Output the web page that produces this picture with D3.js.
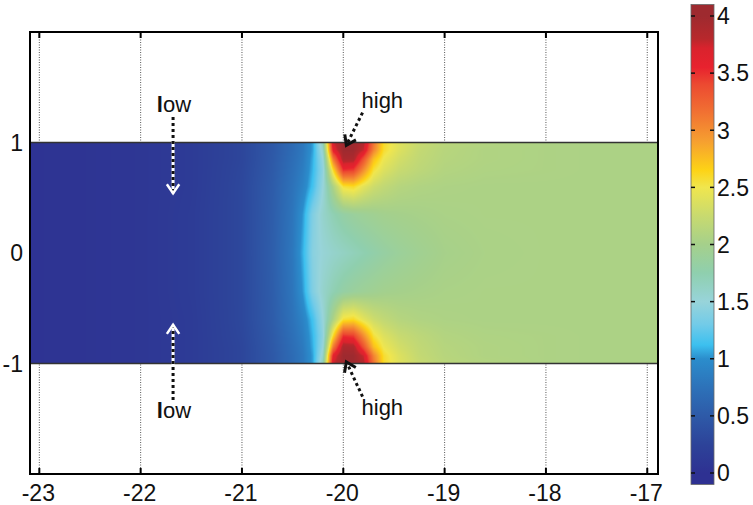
<!DOCTYPE html>
<html>
<head>
<meta charset="utf-8">
<script src="https://cdn.jsdelivr.net/npm/d3@7"></script>
<style>
  body { margin: 0; background: #fff; }
  text { font-family: Arial, "Liberation Sans", Helvetica, sans-serif; fill: #111; }
</style>
</head>
<body>
<div id="chart"></div>
<script>
// field samples: columns (x), rows (y), values
const gridX = [-23.1, -22.5, -22, -21.5, -21, -20.7, -20.5, -20.4, -20.3, -20.2, -20.1, -20, -19.9, -19.8, -19.7, -19.6, -19.45, -19.25, -19, -18.6, -18, -17.5, -16.9];
const gridY = [1, 0.93, 0.85, 0.75, 0.6, 0.35, 0, -0.35, -0.6, -0.75, -0.85, -0.93, -1];
const fieldValues = [
  [0.03, 0.05, 0.08, 0.14, 0.28, 0.48, 0.68, 0.8, 1.05, 1.7, 3.75, 4.0, 4.0, 3.85, 3.15, 2.6, 2.4, 2.25, 2.15, 2.1, 2.06, 2.05, 2.05],
  [0.03, 0.05, 0.08, 0.14, 0.28, 0.48, 0.68, 0.8, 1.05, 1.6, 3.6, 4.0, 4.0, 3.75, 3.05, 2.58, 2.38, 2.22, 2.13, 2.08, 2.06, 2.05, 2.05],
  [0.03, 0.05, 0.08, 0.14, 0.28, 0.49, 0.7, 0.82, 1.08, 1.5, 3.1, 3.9, 3.88, 3.35, 2.75, 2.48, 2.32, 2.2, 2.12, 2.08, 2.06, 2.05, 2.05],
  [0.03, 0.05, 0.08, 0.14, 0.29, 0.5, 0.72, 0.85, 1.1, 1.45, 2.6, 3.5, 3.45, 3.0, 2.55, 2.38, 2.25, 2.17, 2.1, 2.07, 2.06, 2.05, 2.05],
  [0.03, 0.05, 0.08, 0.14, 0.3, 0.52, 0.75, 0.9, 1.15, 1.5, 2.05, 2.55, 2.6, 2.42, 2.28, 2.2, 2.12, 2.08, 2.06, 2.05, 2.05, 2.05, 2.05],
  [0.03, 0.05, 0.08, 0.15, 0.3, 0.53, 0.78, 1.02, 1.38, 1.58, 1.72, 1.82, 1.88, 1.92, 1.95, 1.98, 2.0, 2.02, 2.04, 2.05, 2.05, 2.05, 2.05],
  [0.03, 0.05, 0.08, 0.15, 0.3, 0.54, 0.8, 1.08, 1.42, 1.52, 1.58, 1.63, 1.68, 1.73, 1.78, 1.83, 1.89, 1.95, 2.01, 2.04, 2.05, 2.05, 2.05],
  [0.03, 0.05, 0.08, 0.15, 0.3, 0.53, 0.78, 1.02, 1.38, 1.58, 1.72, 1.82, 1.88, 1.92, 1.95, 1.98, 2.0, 2.02, 2.04, 2.05, 2.05, 2.05, 2.05],
  [0.03, 0.05, 0.08, 0.14, 0.3, 0.52, 0.75, 0.9, 1.15, 1.5, 2.05, 2.55, 2.6, 2.42, 2.28, 2.2, 2.12, 2.08, 2.06, 2.05, 2.05, 2.05, 2.05],
  [0.03, 0.05, 0.08, 0.14, 0.29, 0.5, 0.72, 0.85, 1.1, 1.45, 2.6, 3.5, 3.45, 3.0, 2.55, 2.38, 2.25, 2.17, 2.1, 2.07, 2.06, 2.05, 2.05],
  [0.03, 0.05, 0.08, 0.14, 0.28, 0.49, 0.7, 0.82, 1.08, 1.5, 3.1, 3.9, 3.88, 3.35, 2.75, 2.48, 2.32, 2.2, 2.12, 2.08, 2.06, 2.05, 2.05],
  [0.03, 0.05, 0.08, 0.14, 0.28, 0.48, 0.68, 0.8, 1.05, 1.6, 3.6, 4.0, 4.0, 3.75, 3.05, 2.58, 2.38, 2.22, 2.13, 2.08, 2.06, 2.05, 2.05],
  [0.03, 0.05, 0.08, 0.14, 0.28, 0.48, 0.68, 0.8, 1.05, 1.7, 3.75, 4.0, 4.0, 3.85, 3.15, 2.6, 2.4, 2.25, 2.15, 2.1, 2.06, 2.05, 2.05]
];

const xTicks = [-23, -22, -21, -20, -19, -18, -17];
const yTicks = [-1, 0, 1];
const cbTicks = [0, 0.5, 1, 1.5, 2, 2.5, 3, 3.5, 4];

// colormap (value stops -> colours)
const cmapStops = [0, 0.25, 0.5, 0.75, 1.0, 1.12, 1.3, 1.5, 1.75, 2.0, 2.25, 2.5, 2.65, 2.9, 3.15, 3.4, 3.55, 3.72, 3.8, 4.0];
const cmapColors = ["#2e3192", "#2d4399", "#2e5aa8", "#2d72b9", "#2b8dcc", "#3cc0ef", "#72cbe8", "#98d4da", "#8fcfae",
  "#a5d08b", "#c8da6f", "#f0e64e", "#fdd316", "#f6a030", "#f17232", "#ec4a31", "#e8222e", "#d9232d", "#b8282c", "#9e2a2f"];

// annotations
const lowArrows = [
  { from: [-21.68, 1.23], to: [-21.68, 0.54] },
  { from: [-21.68, -1.33], to: [-21.68, -0.65] }
];
const highArrows = [
  { from: [-19.81, 1.27], to: [-19.97, 0.975] },
  { from: [-19.81, -1.30], to: [-19.97, -0.985] }
];
const labels = [
  { text: "low", at: [-21.84, 1.28] },
  { text: "low", at: [-21.84, -1.49] },
  { text: "high", at: [-19.82, 1.31] },
  { text: "high", at: [-19.82, -1.47] }
];

const W = 753, H = 505;
const svg = d3.select("#chart").append("svg")
    .attr("width", W)
    .attr("height", H);

const x = d3.scaleLinear().domain([-23.092, -16.894]).range([30, 658]);
const y = d3.scaleLinear().domain([-2, 2]).range([474, 32]);
const color = d3.scaleLinear().domain(cmapStops).range(cmapColors).clamp(true);

// dotted vertical grid (sits under the field)
svg.append("g").selectAll("line")
    .data(xTicks)
    .enter().append("line")
    .attr("x1", d => x(d)).attr("x2", d => x(d))
    .attr("y1", y(2)).attr("y2", y(-2))
    .attr("stroke", "#555")
    .attr("stroke-width", 1)
    .attr("stroke-dasharray", "1,1.5");

// field image: bilinear shading between the sampled nodes
const sx0 = x.range()[0], sx1 = x.range()[1];
const sy0 = Math.round(y(1)), sy1 = Math.round(y(-1));
const cw = sx1 - sx0, ch = sy1 - sy0;
const canvas = document.createElement("canvas");
canvas.width = cw; canvas.height = ch;
const ctx = canvas.getContext("2d");
const img = ctx.createImageData(cw, ch);

const yAsc = gridY.slice().reverse();
const rowsAsc = fieldValues.slice().reverse();
function locate(grid, v) {
  let i = d3.bisectRight(grid, v) - 1;
  i = Math.max(0, Math.min(grid.length - 2, i));
  const t = Math.max(0, Math.min(1, (v - grid[i]) / (grid[i + 1] - grid[i])));
  return [i, t];
}
const cols = d3.range(cw).map(i => locate(gridX, x.invert(sx0 + i + 0.5)));
for (let j = 0; j < ch; j++) {
  const [r, ty] = locate(yAsc, y.invert(sy0 + j + 0.5));
  const a = rowsAsc[r], b = rowsAsc[r + 1];
  for (let i = 0; i < cw; i++) {
    const [c, tx] = cols[i];
    const va = a[c] + (a[c + 1] - a[c]) * tx;
    const vb = b[c] + (b[c + 1] - b[c]) * tx;
    const rgb = d3.rgb(color(va + (vb - va) * ty));
    const k = (j * cw + i) * 4;
    img.data[k] = rgb.r; img.data[k + 1] = rgb.g; img.data[k + 2] = rgb.b; img.data[k + 3] = 255;
  }
}
ctx.putImageData(img, 0, 0);
svg.append("image")
    .attr("x", sx0).attr("y", sy0)
    .attr("width", cw).attr("height", ch)
    .attr("preserveAspectRatio", "none")
    .attr("href", canvas.toDataURL());

// strip edges
svg.append("g").selectAll("line")
    .data([1, -1])
    .enter().append("line")
    .attr("x1", sx0).attr("x2", sx1)
    .attr("y1", d => y(d)).attr("y2", d => y(d))
    .attr("stroke", "#333")
    .attr("stroke-width", 1.5);

// axes box
svg.append("rect")
    .attr("x", x.range()[0]).attr("y", y(2))
    .attr("width", x.range()[1] - x.range()[0])
    .attr("height", y(-2) - y(2))
    .attr("fill", "none")
    .attr("stroke", "#000")
    .attr("stroke-width", 2);

// x ticks, top and bottom
const tickG = svg.append("g").attr("stroke", "#000").attr("stroke-width", 2);
xTicks.forEach(d => {
  tickG.append("line").attr("x1", x(d)).attr("x2", x(d)).attr("y1", y(-2)).attr("y2", y(-2) - 6);
  tickG.append("line").attr("x1", x(d)).attr("x2", x(d)).attr("y1", y(2)).attr("y2", y(2) + 6);
});

// tick labels
svg.append("g").selectAll("text")
    .data(xTicks)
    .enter().append("text")
    .attr("x", d => x(d) - 1)
    .attr("y", 501)
    .attr("text-anchor", "middle")
    .style("font-size", "23px")
    .text(d => d);

svg.append("g").selectAll("text")
    .data(yTicks)
    .enter().append("text")
    .attr("x", 23)
    .attr("y", d => y(d))
    .attr("dy", "0.36em")
    .attr("text-anchor", "end")
    .style("font-size", "23px")
    .text(d => d);

// arrows
function dotted(g, p0, p1, w) {
  g.append("line")
      .attr("x1", x(p0[0])).attr("y1", y(p0[1]))
      .attr("x2", x(p1[0])).attr("y2", y(p1[1]))
      .attr("stroke", "#111")
      .attr("stroke-width", w)
      .attr("stroke-dasharray", w + "," + w);
}
function chevron(g, p0, p1, stroke, len, w) {
  const tx = x(p1[0]), ty = y(p1[1]);
  const ang = Math.atan2(ty - y(p0[1]), tx - x(p0[0]));
  const a1 = ang + Math.PI - 0.6, a2 = ang + Math.PI + 0.6;
  g.append("path")
      .attr("d", `M${tx + len * Math.cos(a1)},${ty + len * Math.sin(a1)}L${tx},${ty}L${tx + len * Math.cos(a2)},${ty + len * Math.sin(a2)}`)
      .attr("fill", "none")
      .attr("stroke", stroke)
      .attr("stroke-width", w)
      .attr("stroke-linejoin", "miter");
}

const arrowG = svg.append("g");
lowArrows.forEach(a => {
  arrowG.append("line")
      .attr("x1", x(a.from[0])).attr("y1", y(a.from[1]))
      .attr("x2", x(a.to[0])).attr("y2", y(a.to[1]))
      .attr("stroke", "#fff").attr("stroke-width", 3);
  dotted(arrowG, a.from, a.to, 3);
  chevron(arrowG, a.from, a.to, "#fff", 11, 2.5);
});
highArrows.forEach(a => {
  dotted(arrowG, a.from, a.to, 3);
  chevron(arrowG, a.from, a.to, "#111", 11, 3);
});

svg.append("g").selectAll("text")
    .data(labels)
    .enter().append("text")
    .attr("x", d => x(d.at[0]))
    .attr("y", d => y(d.at[1]))
    .style("font-size", "22px")
    .each(function(d) {
      const t = d3.select(this);
      if (d.text === "low") {
        t.append("tspan").style("font-weight", "bold").text("l");
        t.append("tspan").text("ow");
      } else {
        t.text(d.text);
      }
    });

// colour bar (bar runs a little past 0 and 4)
const cb = d3.scaleLinear().domain([0, 4]).range([473, 16]);
const cbLo = -0.1, cbHi = 4.1;
const grad = svg.append("defs").append("linearGradient")
    .attr("id", "cbGrad")
    .attr("x1", 0).attr("y1", 1).attr("x2", 0).attr("y2", 0);
grad.selectAll("stop")
    .data(cmapStops)
    .enter().append("stop")
    .attr("offset", d => (d - cbLo) / (cbHi - cbLo))
    .attr("stop-color", (d, i) => cmapColors[i]);

const cbX = 691, cbW = 23;
svg.append("rect")
    .attr("x", cbX).attr("y", cb(cbHi))
    .attr("width", cbW).attr("height", cb(cbLo) - cb(cbHi))
    .attr("fill", "url(#cbGrad)")
    .attr("stroke", "#666")
    .attr("stroke-width", 0.8);

const cbTickG = svg.append("g").attr("stroke", "#111").attr("stroke-width", 1.5);
cbTicks.forEach(d => {
  cbTickG.append("line").attr("x1", cbX).attr("x2", cbX + 4).attr("y1", cb(d)).attr("y2", cb(d));
  cbTickG.append("line").attr("x1", cbX + cbW).attr("x2", cbX + cbW - 4).attr("y1", cb(d)).attr("y2", cb(d));
});

svg.append("g").selectAll("text")
    .data(cbTicks)
    .enter().append("text")
    .attr("x", 717)
    .attr("y", d => cb(d))
    .attr("dy", "0.36em")
    .style("font-size", "23px")
    .text(d => d);
</script>
</body>
</html>
